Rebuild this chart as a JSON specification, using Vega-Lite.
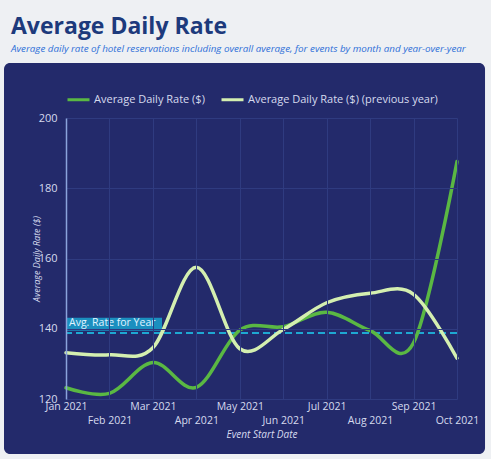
{
  "$schema": "https://vega.github.io/schema/vega-lite/v6.json",
  "autosize": "none",
  "width": 391,
  "height": 281,
  "padding": {"left": 66, "top": 118, "right": 34, "bottom": 60},
  "background": "#eef0f3",
  "title": {
    "text": "Average Daily Rate",
    "subtitle": "Average daily rate of hotel reservations including overall average, for events by month and year-over-year",
    "anchor": "start",
    "frame": "group",
    "offset": 9,
    "dx": -55,
    "font": "Open Sans",
    "fontSize": 23,
    "fontWeight": "bold",
    "color": "#1d3a7c",
    "subtitleFont": "Open Sans",
    "subtitleFontSize": 9.8,
    "subtitleFontStyle": "italic",
    "subtitleColor": "#2d6fd8",
    "subtitlePadding": 5
  },
  "config": {
    "view": {"stroke": null},
    "font": "Open Sans"
  },
  "datasets": {
    "rates": [
      {"month": "Jan 2021", "m": 0, "series": "Average Daily Rate ($)", "rate": 123.2},
      {"month": "Feb 2021", "m": 1, "series": "Average Daily Rate ($)", "rate": 121.6},
      {"month": "Mar 2021", "m": 2, "series": "Average Daily Rate ($)", "rate": 130.4},
      {"month": "Apr 2021", "m": 3, "series": "Average Daily Rate ($)", "rate": 123.3},
      {"month": "May 2021", "m": 4, "series": "Average Daily Rate ($)", "rate": 139.6},
      {"month": "Jun 2021", "m": 5, "series": "Average Daily Rate ($)", "rate": 140.6},
      {"month": "Jul 2021", "m": 6, "series": "Average Daily Rate ($)", "rate": 144.7},
      {"month": "Aug 2021", "m": 7, "series": "Average Daily Rate ($)", "rate": 139.5},
      {"month": "Sep 2021", "m": 8, "series": "Average Daily Rate ($)", "rate": 136.0},
      {"month": "Oct 2021", "m": 9, "series": "Average Daily Rate ($)", "rate": 187.6},
      {"month": "Jan 2021", "m": 0, "series": "Average Daily Rate ($) (previous year)", "rate": 133.2},
      {"month": "Feb 2021", "m": 1, "series": "Average Daily Rate ($) (previous year)", "rate": 132.6},
      {"month": "Mar 2021", "m": 2, "series": "Average Daily Rate ($) (previous year)", "rate": 134.6},
      {"month": "Apr 2021", "m": 3, "series": "Average Daily Rate ($) (previous year)", "rate": 157.5},
      {"month": "May 2021", "m": 4, "series": "Average Daily Rate ($) (previous year)", "rate": 134.3},
      {"month": "Jun 2021", "m": 5, "series": "Average Daily Rate ($) (previous year)", "rate": 139.8},
      {"month": "Jul 2021", "m": 6, "series": "Average Daily Rate ($) (previous year)", "rate": 147.4},
      {"month": "Aug 2021", "m": 7, "series": "Average Daily Rate ($) (previous year)", "rate": 150.1},
      {"month": "Sep 2021", "m": 8, "series": "Average Daily Rate ($) (previous year)", "rate": 149.8},
      {"month": "Oct 2021", "m": 9, "series": "Average Daily Rate ($) (previous year)", "rate": 131.6}
    ],
    "avg": [{"avg": 138.8, "label": "Avg. Rate for Year"}]
  },
  "layer": [
    {
      "data": {"values": [{}]},
      "mark": {"type": "rect", "fill": "#232a6b", "cornerRadius": 6, "clip": false},
      "encoding": {
        "x": {"datum": -1.427, "type": "quantitative", "scale": {"domain": [0, 9], "nice": false, "zero": false}},
        "x2": {"datum": 9.645},
        "y": {"datum": 215.66, "type": "quantitative", "scale": {"domain": [120, 200], "nice": false, "zero": false}},
        "y2": {"datum": 104.34}
      }
    },
    {
      "data": {"name": "avg"},
      "mark": {"type": "rect", "fill": "#1b8fbf", "clip": false},
      "encoding": {
        "x": {"datum": 0, "type": "quantitative"},
        "x2": {"datum": 2.21},
        "y": {"datum": 143.1, "type": "quantitative"},
        "y2": {"datum": 139.4}
      }
    },
    {
      "data": {"name": "avg"},
      "mark": {"type": "text", "align": "left", "baseline": "bottom", "dx": 3, "dy": -5, "fontSize": 10.5, "color": "#e2f4ff", "font": "Open Sans"},
      "encoding": {
        "x": {"datum": 0, "type": "quantitative"},
        "y": {"field": "avg", "type": "quantitative"},
        "text": {"field": "label"}
      }
    },
    {
      "data": {"name": "avg"},
      "mark": {"type": "rule", "color": "#1ea8d2", "strokeWidth": 2, "strokeDash": [7, 4]},
      "encoding": {
        "y": {"field": "avg", "type": "quantitative"}
      }
    },
    {
      "data": {"name": "rates"},
      "mark": {"type": "line", "interpolate": "cardinal", "strokeWidth": 3.5, "strokeCap": "round"},
      "encoding": {
        "x": {
          "field": "m",
          "type": "quantitative",
          "scale": {"domain": [0, 9], "nice": false, "zero": false},
          "axis": {
            "title": "Event Start Date",
            "titleFont": "Open Sans",
            "titleFontSize": 10,
            "titleFontStyle": "italic",
            "titleFontWeight": "normal",
            "titleColor": "#d6daee",
            "titlePadding": 4,
            "values": [0, 1, 2, 3, 4, 5, 6, 7, 8, 9],
            "labelExpr": "['Jan 2021','Feb 2021','Mar 2021','Apr 2021','May 2021','Jun 2021','Jul 2021','Aug 2021','Sep 2021','Oct 2021'][datum.value]",
            "labelPadding": {"condition": {"test": "datum.value % 2 == 1", "value": 16}, "value": 2},
            "labelFont": "Open Sans",
            "labelFontSize": 10.5,
            "labelColor": "#d6daee",
            "labelFlush": false,
            "labelOverlap": false,
            "labelBound": false,
            "ticks": false,
            "domain": false,
            "grid": true,
            "gridColor": "#2f3b80",
            "gridWidth": 1,
            "zindex": 1
          }
        },
        "y": {
          "field": "rate",
          "type": "quantitative",
          "scale": {"domain": [120, 200], "nice": false, "zero": false},
          "axis": {
            "title": "Average Daily Rate ($)",
            "titleFont": "Open Sans",
            "titleFontSize": 9,
            "titleFontStyle": "italic",
            "titleFontWeight": "normal",
            "titleColor": "#d6daee",
            "titlePadding": -3,
            "values": [120, 130, 140, 150, 160, 170, 180, 190, 200],
            "labelExpr": "datum.value % 20 == 0 ? datum.label : ''",
            "labelPadding": 9,
            "labelFont": "Open Sans",
            "labelFontSize": 11,
            "labelColor": "#d6daee",
            "labelFlush": false,
            "labelOverlap": false,
            "ticks": false,
            "domain": true,
            "domainColor": "#8aa3dc",
            "domainWidth": 1.5,
            "grid": true,
            "gridColor": "#2f3b80",
            "gridWidth": 1,
            "zindex": 1
          }
        },
        "color": {
          "field": "series",
          "type": "nominal",
          "scale": {
            "domain": ["Average Daily Rate ($)", "Average Daily Rate ($) (previous year)"],
            "range": ["#5ab843", "#d4efb0"]
          },
          "legend": {
            "orient": "top",
            "direction": "horizontal",
            "title": null,
            "symbolType": "stroke",
            "symbolSize": 484,
            "symbolStrokeWidth": 3,
            "labelFont": "Open Sans",
            "labelFontSize": 11,
            "labelColor": "#d6daee",
            "labelLimit": 300,
            "labelOffset": 3,
            "columnPadding": 10,
            "offset": 12,
            "padding": 0,
            "zindex": 2
          }
        }
      }
    }
  ]
}
